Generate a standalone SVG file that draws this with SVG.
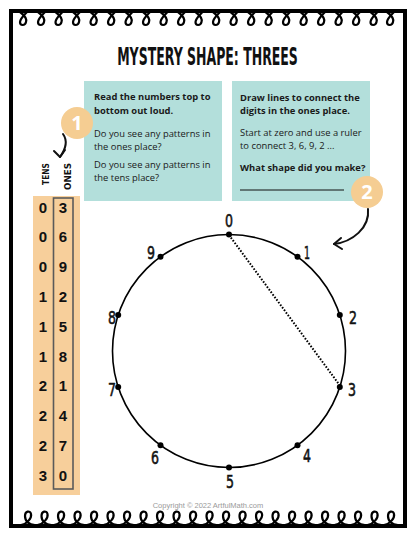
<svg xmlns="http://www.w3.org/2000/svg" xmlns:xlink="http://www.w3.org/1999/xlink" width="416" height="539" viewBox="0 0 416 539">
<style>
.frame{fill:none;stroke:#000;stroke-width:4}
.loop{fill:none;stroke:#000;stroke-width:2.2;stroke-linecap:round}
.title{font-family:"DejaVu Sans",sans-serif;font-weight:bold;font-size:25px;fill:#111;text-anchor:middle}
.box{fill:#B3DFDB}
.bt{font-family:"Open Sans","Liberation Sans",sans-serif;font-size:9.4px;fill:#1a1a1a}
.bb{font-weight:bold}
.badge{fill:#F5CD92}
.bn{font-family:"Open Sans","Liberation Sans",sans-serif;font-weight:bold;font-size:20px;fill:#fff;text-anchor:middle}
.arrow{fill:none;stroke:#111;stroke-width:2;stroke-linecap:round;stroke-linejoin:round}
.col{fill:#F7CF9B}
.onesbox{fill:none;stroke:#5a5a5a;stroke-width:1.6}
.hd{font-family:"DejaVu Sans",sans-serif;font-weight:bold;font-size:9.5px;fill:#111}
.dg{font-family:"Liberation Sans",sans-serif;font-weight:bold;font-size:15px;fill:#111;text-anchor:middle}
.ring{fill:none;stroke:#000;stroke-width:1.6}
.dot{fill:#000}
.cl{font-family:"DejaVu Sans",sans-serif;font-size:18px;fill:#111;stroke:#111;stroke-width:0.6;text-anchor:middle}
.copy{font-family:"Liberation Sans",sans-serif;font-size:7.5px;fill:#9a9a9a;text-anchor:middle}
</style>
<defs>
<path id="tl" class="loop" d="M -3 0 C 1 3, 4 7, 3 10 C 2 14, -3 14, -3 10 C -3 7, 1 3, 4 0"/>
<path id="bl" class="loop" d="M -7 0 C -1 -1, 4 -7, 3 -11 C 2 -15, -3 -14, -3 -9 C -3 -4, 1 0, 7 0"/>
</defs>
<rect width="416" height="539" fill="#fff"/>
<g id="border">
<rect class="frame" x="11" y="11" width="394" height="515"/>
<g id="top-loops">
<use xlink:href="#tl" x="23" y="12"/><use xlink:href="#tl" x="41" y="12"/><use xlink:href="#tl" x="58.5" y="12"/><use xlink:href="#tl" x="76" y="12"/><use xlink:href="#tl" x="93.5" y="12"/><use xlink:href="#tl" x="111" y="12"/><use xlink:href="#tl" x="128.5" y="12"/><use xlink:href="#tl" x="146" y="12"/><use xlink:href="#tl" x="163.5" y="12"/><use xlink:href="#tl" x="181" y="12"/><use xlink:href="#tl" x="198.5" y="12"/><use xlink:href="#tl" x="216" y="12"/><use xlink:href="#tl" x="233.5" y="12"/><use xlink:href="#tl" x="251" y="12"/><use xlink:href="#tl" x="268.5" y="12"/><use xlink:href="#tl" x="286" y="12"/><use xlink:href="#tl" x="303.5" y="12"/><use xlink:href="#tl" x="321" y="12"/><use xlink:href="#tl" x="338.5" y="12"/><use xlink:href="#tl" x="356" y="12"/><use xlink:href="#tl" x="373.5" y="12"/><use xlink:href="#tl" x="390" y="12"/>
</g>
<g id="bottom-loops">
<use xlink:href="#bl" x="28" y="525"/><use xlink:href="#bl" x="44.5" y="525"/><use xlink:href="#bl" x="61" y="525"/><use xlink:href="#bl" x="77.5" y="525"/><use xlink:href="#bl" x="94" y="525"/><use xlink:href="#bl" x="110.5" y="525"/><use xlink:href="#bl" x="127" y="525"/><use xlink:href="#bl" x="143.5" y="525"/><use xlink:href="#bl" x="160" y="525"/><use xlink:href="#bl" x="176.5" y="525"/><use xlink:href="#bl" x="193" y="525"/><use xlink:href="#bl" x="209.5" y="525"/><use xlink:href="#bl" x="226" y="525"/><use xlink:href="#bl" x="242.5" y="525"/><use xlink:href="#bl" x="259" y="525"/><use xlink:href="#bl" x="275.5" y="525"/><use xlink:href="#bl" x="292" y="525"/><use xlink:href="#bl" x="308.5" y="525"/><use xlink:href="#bl" x="325" y="525"/><use xlink:href="#bl" x="341.5" y="525"/><use xlink:href="#bl" x="358" y="525"/><use xlink:href="#bl" x="374.5" y="525"/><use xlink:href="#bl" x="391" y="525"/>
</g>
</g>
<g id="title"><text class="title" transform="translate(207.5,65) scale(0.5,1)" x="0" y="0">MYSTERY SHAPE: THREES</text></g>
<g id="box-left">
<rect class="box" x="84" y="81" width="138" height="120"/>
<text class="bt bb" x="94" y="100">Read the numbers top to</text>
<text class="bt bb" x="94" y="114">bottom out loud.</text>
<text class="bt" x="94" y="137">Do you see any patterns in</text>
<text class="bt" x="94" y="150">the ones place?</text>
<text class="bt" x="94" y="168">Do you see any patterns in</text>
<text class="bt" x="94" y="181">the tens place?</text>
</g>
<g id="box-right">
<rect class="box" x="232" y="81" width="138" height="120"/>
<text class="bt bb" x="240" y="101">Draw lines to connect the</text>
<text class="bt bb" x="240" y="114">digits in the ones place.</text>
<text class="bt" x="240" y="136">Start at zero and use a ruler</text>
<text class="bt" x="240" y="149">to connect 3, 6, 9, 2 ...</text>
<text class="bt bb" x="240" y="171">What shape did you make?</text>
<line x1="240" y1="190" x2="344" y2="190" stroke="#111" stroke-width="1"/>
</g>
<g id="badge-1"><circle class="badge" cx="77" cy="123" r="16"/><text class="bn" x="77" y="130">1</text></g>
<g id="badge-2"><circle class="badge" cx="367" cy="192" r="16"/><text class="bn" x="367" y="199">2</text></g>
<g id="connectors">
<path class="arrow" d="M 63 134 C 68 141, 65 150, 60 157"/>
<path class="arrow" d="M 54 151 L 60 157 L 65 150"/>
<path class="arrow" d="M 368 209 C 370 228, 352 242, 334 244"/>
<path class="arrow" d="M 341 238 L 334 244 L 342 249"/>
<line x1="229" y1="235" x2="341" y2="387" stroke="#000" stroke-width="2" stroke-dasharray="1.6 1.6"/>
</g>
<g id="table">
<rect class="col" x="33" y="196" width="47" height="299"/>
<rect class="onesbox" x="53.5" y="198" width="19.5" height="291"/>
<text class="hd" transform="translate(49,185) rotate(-90)" textLength="22" lengthAdjust="spacingAndGlyphs">TENS</text>
<text class="hd" transform="translate(71,190) rotate(-90)" textLength="27" lengthAdjust="spacingAndGlyphs">ONES</text>
<text class="dg" x="43" y="212.5">0</text><text class="dg" x="63" y="212.5">3</text>
<text class="dg" x="43" y="242.3">0</text><text class="dg" x="63" y="242.3">6</text>
<text class="dg" x="43" y="272.1">0</text><text class="dg" x="63" y="272.1">9</text>
<text class="dg" x="43" y="301.9">1</text><text class="dg" x="63" y="301.9">2</text>
<text class="dg" x="43" y="331.7">1</text><text class="dg" x="63" y="331.7">5</text>
<text class="dg" x="43" y="361.5">1</text><text class="dg" x="63" y="361.5">8</text>
<text class="dg" x="43" y="391.3">2</text><text class="dg" x="63" y="391.3">1</text>
<text class="dg" x="43" y="421.1">2</text><text class="dg" x="63" y="421.1">4</text>
<text class="dg" x="43" y="450.9">2</text><text class="dg" x="63" y="450.9">7</text>
<text class="dg" x="43" y="480.7">3</text><text class="dg" x="63" y="480.7">0</text>
</g>
<g id="clock">
<circle class="ring" cx="229" cy="351" r="116.5"/>
<circle class="dot" cx="229" cy="234.5" r="3"/>
<circle class="dot" cx="297.5" cy="256.7" r="3"/>
<circle class="dot" cx="339.8" cy="315" r="3"/>
<circle class="dot" cx="339.8" cy="387" r="3"/>
<circle class="dot" cx="297.5" cy="445.3" r="3"/>
<circle class="dot" cx="229" cy="467.5" r="3"/>
<circle class="dot" cx="160.5" cy="445.3" r="3"/>
<circle class="dot" cx="118.2" cy="387" r="3"/>
<circle class="dot" cx="118.2" cy="315" r="3"/>
<circle class="dot" cx="160.5" cy="256.7" r="3"/>
<text class="cl" x="229" y="227" textLength="8" lengthAdjust="spacingAndGlyphs">0</text>
<text class="cl" x="307" y="259" textLength="6" lengthAdjust="spacingAndGlyphs">1</text>
<text class="cl" x="353" y="324" textLength="8" lengthAdjust="spacingAndGlyphs">2</text>
<text class="cl" x="352" y="396" textLength="8" lengthAdjust="spacingAndGlyphs">3</text>
<text class="cl" x="307" y="462" textLength="8" lengthAdjust="spacingAndGlyphs">4</text>
<text class="cl" x="230" y="488" textLength="8" lengthAdjust="spacingAndGlyphs">5</text>
<text class="cl" x="155" y="464" textLength="8" lengthAdjust="spacingAndGlyphs">6</text>
<text class="cl" x="112" y="396" textLength="8" lengthAdjust="spacingAndGlyphs">7</text>
<text class="cl" x="112" y="324" textLength="8" lengthAdjust="spacingAndGlyphs">8</text>
<text class="cl" x="151" y="259" textLength="8" lengthAdjust="spacingAndGlyphs">9</text>
</g>
<g id="copyright"><text class="copy" x="208" y="508">Copyright © 2022 ArtfulMath.com</text></g>
</svg>
